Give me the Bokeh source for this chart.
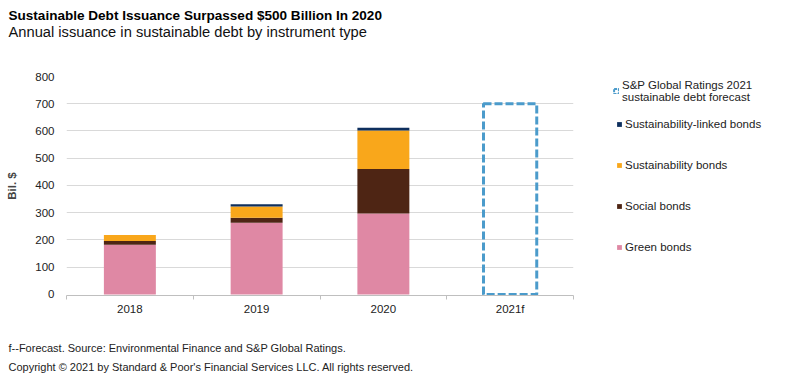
from bokeh.plotting import figure
from bokeh.layouts import column, row
from bokeh.models import (ColumnDataSource, Range1d, FixedTicker, Legend, LegendItem, Label)
from bokeh.embed import file_html
from bokeh.resources import INLINE

years = ["2018", "2019", "2020", "2021f"]
green = [182, 263, 297, 0]
social = [14, 18, 163, 0]
sustainability = [22, 42, 142, 0]
linked = [0, 8, 10, 0]
forecast = [None, None, None, 700]
y_ticks = [0, 100, 200, 300, 400, 500, 600, 700, 800]

series = ["green", "social", "sustainability", "linked"]
labels = ["Green bonds", "Social bonds", "Sustainability bonds", "Sustainability-linked bonds"]
colors = ["#df88a4", "#4e2514", "#f9a71b", "#0e2f5e"]
forecast_label = "S&P Global Ratings 2021\nsustainable debt forecast"
title = "Sustainable Debt Issuance Surpassed $500 Billion In 2020"
subtitle = "Annual issuance in sustainable debt by instrument type"
notes = ["f--Forecast. Source: Environmental Finance and S&P Global Ratings.",
         "Copyright \u00a9 2021 by Standard & Poor's Financial Services LLC. All rights reserved."]

FONT = "Liberation Sans"
FC_COLOR = "#4b9bcb"

xpos = [i + 0.5 for i in range(len(years))]
src = ColumnDataSource(dict(x=xpos, green=green, social=social, sustainability=sustainability,
                            linked=linked))
fc_idx = [i for i, v in enumerate(forecast) if v is not None]
fc_src = ColumnDataSource(dict(x=[xpos[i] for i in fc_idx], top=[forecast[i] for i in fc_idx]))


def text_canvas(w, h):
    f = figure(width=w, height=h, output_backend="svg", toolbar_location=None,
               x_range=Range1d(0, 1), y_range=Range1d(0, 1),
               x_axis_location=None, y_axis_location=None,
               min_border=0, min_border_left=0, min_border_right=0,
               min_border_top=0, min_border_bottom=0)
    f.outline_line_color = None
    f.grid.visible = False
    return f


def lab(f, text, x, y, size, style="normal", color="#111111"):
    f.add_layout(Label(x=x, y=y, x_units="screen", y_units="screen", text=text,
                       text_font=FONT, text_font_size=size, text_font_style=style,
                       text_color=color, text_baseline="alphabetic"))


# ---- title block
top = text_canvas(800, 50)
lab(top, title, 8, 35, "13.55px", "bold", "#000000")
lab(top, subtitle, 8, 19, "14.7px")

# ---- main chart
p = figure(width=575, height=275, output_backend="svg", toolbar_location=None,
           x_range=Range1d(0, len(years)), y_range=Range1d(-4, 800),
           min_border_left=66, min_border_right=2, min_border_top=26, min_border_bottom=30)
p.outline_line_color = None
p.xgrid.grid_line_color = None
p.ygrid.grid_line_color = "#d9d9d9"
p.ygrid.ticker = FixedTicker(ticks=y_ticks[1:])

p.vbar_stack(series, x="x", width=0.41, color=colors, source=src, line_color=None)
p.vbar(x="x", top="top", width=0.42, source=fc_src, fill_color=None,
       line_color=FC_COLOR, line_width=3, line_dash="8 3")

p.yaxis.ticker = FixedTicker(ticks=y_ticks)
p.yaxis.axis_line_color = None
p.yaxis.major_tick_line_color = None
p.yaxis.major_tick_out = 0
p.yaxis.major_tick_in = 0
p.yaxis.minor_tick_line_color = None
p.yaxis.major_label_text_font = FONT
p.yaxis.major_label_text_font_size = "11.5px"
p.yaxis.major_label_text_color = "#222222"
p.yaxis.major_label_standoff = 12
p.yaxis.axis_label = "Bil. $"
p.yaxis.axis_label_text_font = FONT
p.yaxis.axis_label_text_font_style = "bold"
p.yaxis.axis_label_text_font_size = "11.5px"
p.yaxis.axis_label_standoff = 14

p.xaxis.ticker = FixedTicker(ticks=xpos, minor_ticks=list(range(len(years) + 1)))
p.xaxis.major_label_overrides = {x: y for x, y in zip(xpos, years)}
p.xaxis.axis_line_color = "#bfbfbf"
p.xaxis.major_tick_line_color = None
p.xaxis.major_tick_out = 0
p.xaxis.major_tick_in = 0
p.xaxis.minor_tick_line_color = "#bfbfbf"
p.xaxis.minor_tick_out = 4
p.xaxis.minor_tick_in = 0
p.xaxis.major_label_text_font = FONT
p.xaxis.major_label_text_font_size = "11.5px"
p.xaxis.major_label_text_color = "#222222"
p.xaxis.major_label_standoff = 3

# ---- legend panel (renderers hidden; only their legend glyphs are shown)
lg = text_canvas(225, 275)
fc_r = lg.vbar(x="x", top="top", width=0.4, source=fc_src, fill_color=None,
               line_color=FC_COLOR, line_width=2, line_dash="3 1", visible=False)
rs = [lg.vbar(x="x", top=s, width=0.4, source=src, fill_color=c, line_color=None, visible=False)
      for s, c in zip(series, colors)]

common = dict(background_fill_alpha=0, border_line_color=None, padding=0, margin=0,
              glyph_width=6, glyph_height=6, label_standoff=3, label_text_font=FONT,
              label_text_font_size="11.5px", label_text_color="#222222", label_height=14,
              inactive_fill_alpha=0)
leg1 = Legend(items=[LegendItem(label=forecast_label, renderers=[fc_r])],
              location=(38, 192), **common)
leg2 = Legend(items=[LegendItem(label=l, renderers=[r]) for r, l in reversed(list(zip(rs, labels)))],
              location=(41, 41), spacing=27, **common)
lg.add_layout(leg1)
lg.add_layout(leg2)

# ---- footer block
bot = text_canvas(800, 49)
lab(bot, notes[0], 8, 27, "11px", color="#222222")
lab(bot, notes[1], 8, 8, "11px", color="#222222")

layout = column(top, row(p, lg), bot)
open("out.html", "w").write(file_html(layout, INLINE))
